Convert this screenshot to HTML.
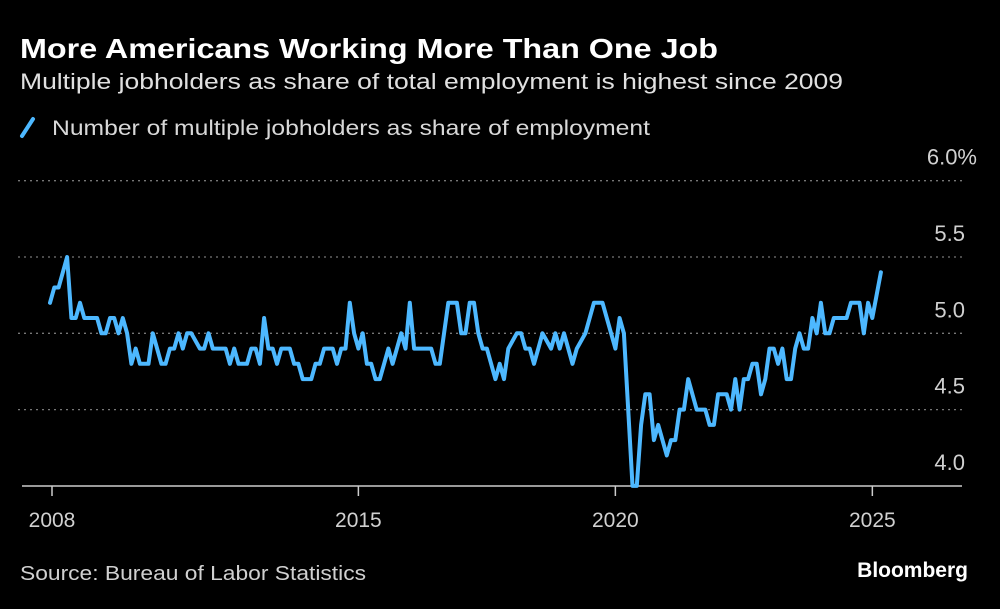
<!DOCTYPE html>
<html><head><meta charset="utf-8"><style>
body{margin:0;background:#000;width:1000px;height:604px;overflow:hidden;font-family:"Liberation Sans",sans-serif;}
</style></head><body>
<svg width="1000" height="604" viewBox="0 0 1000 604">
<text x="20" y="58" fill="#fff" font-size="28" font-weight="bold" textLength="698" lengthAdjust="spacingAndGlyphs">More Americans Working More Than One Job</text>
<text x="20" y="89" fill="#e0e0e0" font-size="22" textLength="823" lengthAdjust="spacingAndGlyphs">Multiple jobholders as share of total employment is highest since 2009</text>
<g>
<line x1="22" y1="136" x2="33" y2="119" stroke="#4db8ff" stroke-width="4" stroke-linecap="round"/>
<text x="52" y="135" fill="#d8d8d8" font-size="21" textLength="598" lengthAdjust="spacingAndGlyphs">Number of multiple jobholders as share of employment</text>
</g>
<g id="grid"></g>
<g id="xaxis"></g>
<g id="series"></g>
<text x="20" y="580" fill="#d0d0d0" font-size="20" textLength="346" lengthAdjust="spacingAndGlyphs">Source: Bureau of Labor Statistics</text>
<text x="968" y="577" fill="#fff" font-size="21" font-weight="bold" text-anchor="end">Bloomberg</text>
</svg>
<script>
const months=[0,1,2,4,5,6,7,8,11,12,13,14,15,16,17,18,19,20,21,23,24,26,27,28,29,30,31,32,33,35,36,37,38,41,42,43,44,46,47,48,49,50,51,52,53,54,56,57,58,59,61,62,63,64,66,67,68,69,70,71,72,73,74,75,76,77,79,80,82,83,84,85,89,90,91,93,95,96,97,98,99,100,101,102,104,105,106,107,109,110,111,112,113,114,115,117,118,119,120,122,123,125,127,129,131,132,133,134,136,137,138,139,140,141,142,144,145,146,147,148,149,151,153,154,155,156,158,159,160,161,162,163,164,165,166,167,168,169,170,171,172,173,174,175,176,177,178,179,180,181,182,183,186,187,189,190,191,192,194];
const values=[5.2,5.3,5.3,5.5,5.1,5.1,5.2,5.1,5.1,5.0,5.0,5.1,5.1,5.0,5.1,5.0,4.8,4.9,4.8,4.8,5.0,4.8,4.8,4.9,4.9,5.0,4.9,5.0,5.0,4.9,4.9,5.0,4.9,4.9,4.8,4.9,4.8,4.8,4.9,4.9,4.8,5.1,4.9,4.9,4.8,4.9,4.9,4.8,4.8,4.7,4.7,4.8,4.8,4.9,4.9,4.8,4.9,4.9,5.2,5.0,4.9,5.0,4.8,4.8,4.7,4.7,4.9,4.8,5.0,4.9,5.2,4.9,4.9,4.8,4.8,5.2,5.2,5.0,5.0,5.2,5.2,5.0,4.9,4.9,4.7,4.8,4.7,4.9,5.0,5.0,4.9,4.9,4.8,4.9,5.0,4.9,5.0,4.9,5.0,4.8,4.9,5.0,5.2,5.2,5.0,4.9,5.1,5.0,4.0,4.0,4.4,4.6,4.6,4.3,4.4,4.2,4.3,4.3,4.5,4.5,4.7,4.5,4.5,4.4,4.4,4.6,4.6,4.5,4.7,4.5,4.7,4.7,4.8,4.8,4.6,4.7,4.9,4.9,4.8,4.9,4.7,4.7,4.9,5.0,4.9,4.9,5.1,5.0,5.2,5.0,5.0,5.1,5.1,5.2,5.2,5.0,5.2,5.1,5.4];
const yTicks=[4.0,4.5,5.0,5.5,6.0];
const yLabels=["4.0","4.5","5.0","5.5","6.0%"];
const xTicks=[0,72,132,192];
const xLabels=["2008","2015","2020","2025"];
const NS="http://www.w3.org/2000/svg";
function xs(m){return 50+m*4.283;}
function ys(v){return 257+(5.5-v)*152.6;}
const grid=document.getElementById('grid');
yTicks.forEach((t,i)=>{
 if(t>4.0){
  const l=document.createElementNS(NS,'line');
  l.setAttribute('x1',18);l.setAttribute('x2',962);
  l.setAttribute('y1',ys(t));l.setAttribute('y2',ys(t));
  l.setAttribute('stroke','#777');l.setAttribute('stroke-width','1.3');l.setAttribute('stroke-dasharray','2 4');
  
  
  grid.appendChild(l);
 }
 const tx=document.createElementNS(NS,'text');
 tx.setAttribute('x',i==4?977:965);tx.setAttribute('y',ys(t)-16);
 tx.setAttribute('text-anchor','end');tx.setAttribute('fill','#d0d0d0');tx.setAttribute('font-size','22');
 tx.textContent=yLabels[i];
 
 
 grid.appendChild(tx);
});
const xa=document.getElementById('xaxis');
const ax=document.createElementNS(NS,'line');
ax.setAttribute('x1',22);ax.setAttribute('x2',962);ax.setAttribute('y1',486);ax.setAttribute('y2',486);
ax.setAttribute('stroke','#ccc');ax.setAttribute('stroke-width','1.5');


xa.appendChild(ax);
xTicks.forEach((m,i)=>{
 const t=document.createElementNS(NS,'line');
 const x=i==0?52:xs(m);
 t.setAttribute('x1',x);t.setAttribute('x2',x);t.setAttribute('y1',486);t.setAttribute('y2',496);
 t.setAttribute('stroke','#ccc');t.setAttribute('stroke-width','1.5');
 
 
 xa.appendChild(t);
 const tx=document.createElementNS(NS,'text');
 tx.setAttribute('x',x);tx.setAttribute('y',527);tx.setAttribute('text-anchor','middle');
 tx.setAttribute('fill','#d0d0d0');tx.setAttribute('font-size','21');
 tx.textContent=xLabels[i];
 
 
 xa.appendChild(tx);
});
const p=document.createElementNS(NS,'polyline');
p.setAttribute('points',months.map((m,i)=>xs(m).toFixed(1)+','+ys(values[i]).toFixed(1)).join(' '));
p.setAttribute('fill','none');p.setAttribute('stroke','#4db8ff');p.setAttribute('stroke-width','4');
p.setAttribute('stroke-linejoin','round');p.setAttribute('stroke-linecap','round');


document.getElementById('series').appendChild(p);
</script>
</body></html>
